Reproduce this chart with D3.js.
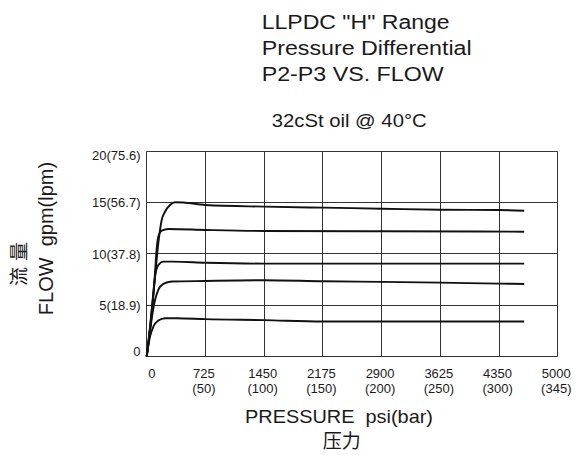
<!DOCTYPE html>
<html>
<head>
<meta charset="utf-8">
<script src="https://cdn.jsdelivr.net/npm/d3@7"></script>
<style>
  html, body { margin: 0; padding: 0; background: #fff; }
  svg { display: block; }
  text { font-family: "Liberation Sans", Arial, Helvetica, sans-serif; fill: #1a1a1a; }
  text.cjk { font-family: "Noto Sans CJK SC", sans-serif; fill: #1a1a1a; }
</style>
</head>
<body>
<svg id="chart" width="576" height="455"></svg>
<script>
// ---- data ----
const titleLines = ['LLPDC "H" Range', 'Pressure Differential', 'P2-P3 VS. FLOW'];
const subtitle = '32cSt oil @ 40°C';
const xTitle = 'PRESSURE  psi(bar)';
const xTitleCn = '压力';
const yTitle = 'FLOW  gpm(lpm)';
const yTitleCn = '流量';

const psiTicks = [0, 725, 1450, 2175, 2900, 3625, 4350, 5075];
const psiLabels = ['0', '725', '1450', '2175', '2900', '3625', '4350', '5000'];
const barLabels = ['', '(50)', '(100)', '(150)', '(200)', '(250)', '(300)', '(345)'];

const flowTicks = [0, 5, 10, 15, 20];
const flowLabels = ['0', '5(18.9)', '10(37.8)', '15(56.7)', '20(75.6)'];

// curves: [psi, gpm]
const curve1 = [[0,0],[50,3.2],[100,7.5],[143,11.0],[185,13.3],[226,14.1],[288,14.76],[350,15.02],[453,15.0],[725,14.76],[1450,14.6],[2175,14.5],[2900,14.4],[3625,14.3],[4350,14.27],[4660,14.2]];
const curve2 = [[0,0],[50,3.5],[100,7.8],[123,10.5],[143,11.67],[185,12.26],[267,12.42],[725,12.33],[1450,12.23],[2900,12.2],[4660,12.16]];
const curve3 = [[0,0],[50,3.5],[80,6.0],[103,7.8],[143,8.9],[205,9.24],[330,9.24],[725,9.14],[1450,9.05],[4660,9.05]];
const curve4 = [[0,0],[50,3.0],[80,4.6],[103,5.5],[143,6.5],[205,7.07],[309,7.3],[725,7.36],[1450,7.43],[2175,7.33],[2900,7.27],[3625,7.2],[4350,7.1],[4660,7.07]];
const curve5 = [[0,0],[41,1.95],[82,2.9],[143,3.5],[226,3.73],[370,3.73],[725,3.64],[1450,3.54],[2175,3.41],[4660,3.41]];
const curves = [curve1, curve2, curve3, curve4, curve5];

// ---- drawing ----
const svg = d3.select('#chart');
const x = d3.scaleLinear().domain([0, 5075]).range([146.7, 557.8]);
const y = d3.scaleLinear().domain([0, 20]).range([356.5, 151.2]);
const crisp = v => Math.round(v - 0.5) + 0.5;

const grid = svg.append('g').attr('stroke', '#333').attr('stroke-width', 1).attr('fill', 'none');
grid.selectAll('line.v').data(psiTicks).join('line')
  .attr('class', 'v')
  .attr('x1', d => crisp(x(d))).attr('x2', d => crisp(x(d)))
  .attr('y1', crisp(y(20))).attr('y2', crisp(y(0)));
grid.selectAll('line.h').data(flowTicks).join('line')
  .attr('class', 'h')
  .attr('y1', d => crisp(y(d))).attr('y2', d => crisp(y(d)))
  .attr('x1', crisp(x(0))).attr('x2', crisp(x(5075)));

// Axis tick labels
const xl = svg.append('g').attr('font-size', 13);
xl.selectAll('text.psi').data(psiTicks).join('text')
  .attr('class', 'psi')
  .attr('x', (d, i) => i === 0 ? x(d) + 1.5 : x(d) - 1.5)
  .attr('y', 378.3)
  .attr('text-anchor', (d, i) => i === 0 ? 'start' : 'middle')
  .text((d, i) => psiLabels[i]);
xl.selectAll('text.bar').data(psiTicks).join('text')
  .attr('class', 'bar')
  .attr('x', d => x(d) - 1.5)
  .attr('y', 392.5)
  .attr('text-anchor', 'middle')
  .text((d, i) => barLabels[i]);

const yl = svg.append('g').attr('font-size', 13);
yl.selectAll('text').data(flowTicks).join('text')
  .attr('x', 140.5)
  .attr('y', (d, i) => y(d) + 4.7 + (i === 0 ? -5.3 : (i === flowTicks.length - 1 ? 4 : 0)))
  .attr('text-anchor', 'end')
  .text((d, i) => flowLabels[i]);

// Curves
const line = d3.line().x(d => x(d[0])).y(d => y(d[1])).curve(d3.curveMonotoneX);
svg.append('g').selectAll('path').data(curves).join('path')
  .attr('d', line)
  .attr('fill', 'none')
  .attr('stroke', '#111')
  .attr('stroke-width', 1.9)
  .attr('stroke-linejoin', 'round');

// Titles
const tLens = [188, 210, 182];
const tBase = [29.3, 54.6, 80.7];
svg.append('g').attr('font-size', 20).selectAll('text').data(titleLines).join('text')
  .attr('x', 261.7)
  .attr('y', (d, i) => tBase[i])
  .attr('textLength', (d, i) => tLens[i])
  .attr('lengthAdjust', 'spacingAndGlyphs')
  .text(d => d);

svg.append('text')
  .attr('x', 271.7).attr('y', 126.7)
  .attr('font-size', 18.5)
  .attr('textLength', 155).attr('lengthAdjust', 'spacingAndGlyphs')
  .text(subtitle);

svg.append('text')
  .attr('x', 245).attr('y', 423.3)
  .attr('font-size', 18.5)
  .style('white-space', 'pre')
  .attr('textLength', 188).attr('lengthAdjust', 'spacingAndGlyphs')
  .text(xTitle);

svg.append('text')
  .attr('class', 'cjk')
  .attr('x', 341.7).attr('y', 448)
  .attr('font-size', 19)
  .attr('text-anchor', 'middle')
  .text(xTitleCn);

svg.append('text')
  .attr('transform', 'translate(53.3,238.5) rotate(-90)')
  .attr('font-size', 20)
  .attr('text-anchor', 'middle')
  .style('white-space', 'pre')
  .text(yTitle);

svg.append('text')
  .attr('class', 'cjk')
  .attr('transform', 'translate(26.4,264) rotate(-90)')
  .attr('font-size', 19)
  .attr('text-anchor', 'middle')
  .attr('textLength', 44).attr('lengthAdjust', 'spacing')
  .text(yTitleCn);
</script>
</body>
</html>
